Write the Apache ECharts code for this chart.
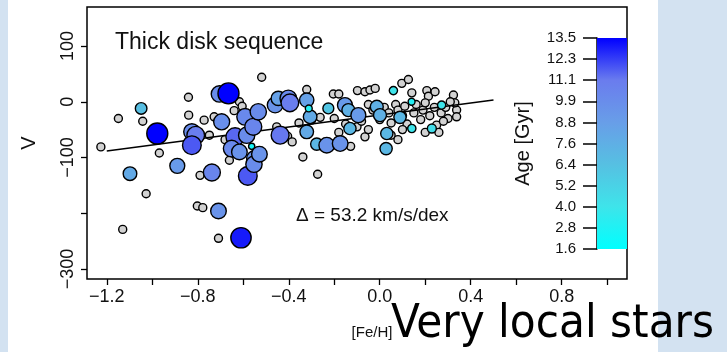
<!DOCTYPE html>
<html><head><meta charset="utf-8">
<script src="https://cdn.jsdelivr.net/npm/echarts@6/dist/echarts.min.js"></script>
<style>
html,body{margin:0;padding:0;background:#d3e2f1;}
#wrap{position:relative;width:727px;height:352px;overflow:hidden;}
#panel{position:absolute;left:8px;top:0;width:650px;height:352px;background:#fff;}
#chart{position:absolute;left:0;top:0;width:727px;height:352px;}
</style></head><body>
<div id="wrap"><div id="panel"></div><div id="chart"></div></div>
<script>
// stars without an age estimate (grey)
const grayFeH = [-1.226,-1.149,-1.042,-0.969,-0.841,-0.840,-0.772,-0.749,-0.728,-0.680,-0.640,-0.617,-0.605,-0.519,-0.453,-0.405,-0.385,-0.338,-0.321,-0.355,-0.300,-0.262,-0.204,-0.180,-0.128,-0.065,-0.098,-0.065,-0.043,-0.020,0.097,0.126,0.141,0.207,0.214,0.243,0.324,0.338,0.338,0.330,-1.027,-0.790,-0.661,-0.802,-0.778,-1.130,-0.709,-0.273,-0.05,-0.03,0.00,0.02,0.04,0.05,0.07,0.08,0.10,0.11,0.12,0.15,0.16,0.18,0.19,0.20,0.22,0.24,0.25,0.27,0.29,0.30,0.31,0.05,0.08,0.20,0.26,-0.20,-0.15,-0.10,-0.05,-0.08,-0.18,0.10,0.28];
const grayV   = [-81,-30,-35,-92,8,-24,-33,-60,-27,-68,-16,0,-8,44,-45,-62,-72,-99,22,-38,-33,-28,14,14,-80,-63,20,18,21,24,33,40,16,20,10,18,12,-15,-27,-2,-165,-132,-105,-187,-190,-229,-245,-130,-5,-15,-32,-10,-20,-38,-5,-15,-25,-8,-40,-20,-5,-32,-15,-2,-25,-10,-42,-20,-10,-30,0,-60,-68,-55,-55,-30,-40,-45,-50,-35,-55,-50,-35];
// stars with an age estimate (coloured)
const ageFeH = [-1.049,-0.978,-0.826,-0.809,-0.826,-0.695,-0.705,-0.665,-0.636,-0.651,-0.617,-0.592,-0.585,-0.556,-0.534,-0.551,-0.563,-0.460,-0.446,-0.402,-0.395,-0.438,-0.321,-0.306,-0.321,-0.312,-0.277,-0.233,-0.174,-0.226,-0.153,-0.138,-0.094,-0.131,-0.013,0.001,0.031,0.028,0.060,0.089,0.141,0.140,0.229,0.272,-1.098,-0.890,-0.738,-0.709,-0.610,-0.580,-0.553,-0.529];
const ageV   = [-12,-57,-54,-60,-78,-36,14,15,-63,-84,-90,-27,-60,-45,-18,-102,-80,-6,6,6,-2,-60,3,-27,-54,-12,-76,-78,-75,-12,-6,-15,-24,-48,-9,-24,-57,-84,20,-28,-48,0,-48,-6,-129,-115,-127,-196,-244,-133,-112,-94];
const ageGyr = [6.5,13.5,10.0,11.0,11.8,9.8,10.0,13.5,11.5,10.2,9.5,10.2,10.0,10.5,10.0,9.5,2.5,9.5,8.5,10.2,11.0,11.2,8.5,8.0,8.0,3.0,7.0,9.5,9.5,6.0,9.0,7.5,9.0,7.0,7.5,7.5,7.0,7.0,4.0,7.0,4.0,3.0,4.5,4.0,8.0,9.0,10.5,9.5,13.0,11.8,10.0,9.5];
// fitted trend line end points
const fitFeH = [-1.2, 0.5];
const fitV   = [-88.5, 3.0];
// axes
const xTickValues  = [-1.2,-1.0,-0.8,-0.6,-0.4,-0.2,0.0,0.2,0.4,0.6,0.8,1.0];
const xLabelValues = [-1.2,-0.8,-0.4,0.0,0.4,0.8];
const yTickValues  = [100,0,-100,-200,-300];
const yLabelValues = [100,0,-100,-300];
const ageTickLabels = ['1.6','2.8','4.0','5.2','6.4','7.6','8.8','9.9','11.1','12.3','13.5'];
const ageColors = ['#00ffff','#3ee4ea','#56c0e2','#689ee8','#6a7cee','#0000ff'];
const ageMin = 1.6, ageMax = 13.5;

const chart = echarts.init(document.getElementById('chart'), null, {renderer:'canvas'});
const FONT = "'Liberation Sans', Arial, Helvetica, sans-serif";
const minus = v => (v < 0 ? '\u2212' : '') + Math.abs(v);
const fmtX = v => (v < 0 ? '\u2212' : '') + Math.abs(v).toFixed(1);

const grayData = grayFeH.map((x, i) => [x, grayV[i]]);
const ageData = ageFeH.map((x, i) => [x, ageV[i], ageGyr[i]]);
const fitData = fitFeH.map((x, i) => [x, fitV[i]]);

const stops = ageColors.map((c, i) => ({offset: i / (ageColors.length - 1), color: c}));

chart.setOption({
  animation: false,
  backgroundColor: 'transparent',
  textStyle: {fontFamily: FONT},
  grid: [
    {left: 87, top: 7, width: 540, height: 272, show: true, borderColor: '#000', borderWidth: 1.5, backgroundColor: 'transparent'},
    {left: 597, top: 38, width: 30, height: 211, show: false}
  ],
  xAxis: [
    {type: 'value', gridIndex: 0, min: -1.287, max: 1.087, position: 'bottom',
     axisLine: {show: false, onZero: false}, splitLine: {show: false},
     axisTick: {show: true, length: 6, lineStyle: {color: '#000', width: 1.3}, customValues: xTickValues},
     axisLabel: {customValues: xLabelValues, formatter: fmtX, fontSize: 18, color: '#111', margin: 9, fontFamily: FONT}},
    {type: 'category', gridIndex: 1, data: ['age'], show: false, boundaryGap: true}
  ],
  yAxis: [
    {type: 'value', gridIndex: 0, min: -318, max: 170, position: 'left',
     axisLine: {show: false, onZero: false}, splitLine: {show: false},
     axisTick: {show: true, length: 6, lineStyle: {color: '#000', width: 1.3}, customValues: yTickValues},
     axisLabel: {customValues: yLabelValues, formatter: minus, rotate: 90, fontSize: 18, color: '#111', margin: 10, fontFamily: FONT},
     name: 'V', nameLocation: 'middle', nameRotate: 90, nameGap: 48,
     nameTextStyle: {fontSize: 20, color: '#111', fontFamily: FONT}},
    {type: 'value', gridIndex: 1, min: 0, max: 10, interval: 1, position: 'left',
     axisLine: {show: true, onZero: false, lineStyle: {color: '#000', width: 1.5}}, splitLine: {show: false},
     axisTick: {show: true, length: 14, lineStyle: {color: '#000', width: 1.5}},
     axisLabel: {formatter: v => ageTickLabels[Math.round(v)], fontSize: 15, color: '#111', margin: 21, fontFamily: FONT},
     name: 'Age [Gyr]', nameLocation: 'middle', nameRotate: 90, nameGap: 64,
     nameTextStyle: {fontSize: 20, color: '#111', fontFamily: FONT}}
  ],
  visualMap: [{
    show: false, type: 'continuous', seriesIndex: 2, dimension: 2,
    min: ageMin, max: ageMax,
    inRange: {color: ageColors, symbolSize: [5, 21]}
  }],
  series: [
    {type: 'scatter', xAxisIndex: 0, yAxisIndex: 0, data: grayData, symbolSize: 8, z: 2,
     itemStyle: {color: '#d2d2d2', borderColor: '#000', borderWidth: 1.4, opacity: 1}},
    {type: 'line', xAxisIndex: 0, yAxisIndex: 0, data: fitData, showSymbol: false, z: 3,
     lineStyle: {color: '#000', width: 1.5}},
    {type: 'scatter', xAxisIndex: 0, yAxisIndex: 0, data: ageData, z: 4,
     itemStyle: {borderColor: '#000', borderWidth: 1.4, opacity: 1}},
    {type: 'bar', xAxisIndex: 1, yAxisIndex: 1, data: [10], barWidth: 30, z: 2,
     itemStyle: {color: new echarts.graphic.LinearGradient(0, 1, 0, 0, stops)}}
  ],
  graphic: [
    {type: 'text', x: 115, y: 43, style: {text: 'Thick disk sequence', fontSize: 23, fontFamily: FONT, fill: '#111', align: 'left', verticalAlign: 'middle'}},
    {type: 'text', x: 296, y: 216, style: {text: '\u0394 = 53.2 km/s/dex', fontSize: 19, fontFamily: FONT, fill: '#111', align: 'left', verticalAlign: 'middle'}},
    {type: 'text', x: 372, y: 333, style: {text: '[Fe/H]', fontSize: 15, fontFamily: FONT, fill: '#111', align: 'center', verticalAlign: 'middle'}},
    {type: 'text', x: 391, y: 325, style: {text: 'Very local stars', fontSize: 47, fontFamily: "'DejaVu Sans Condensed', 'DejaVu Sans', sans-serif", fill: '#000', align: 'left', verticalAlign: 'middle'}}
  ]
});
</script>
</body></html>
